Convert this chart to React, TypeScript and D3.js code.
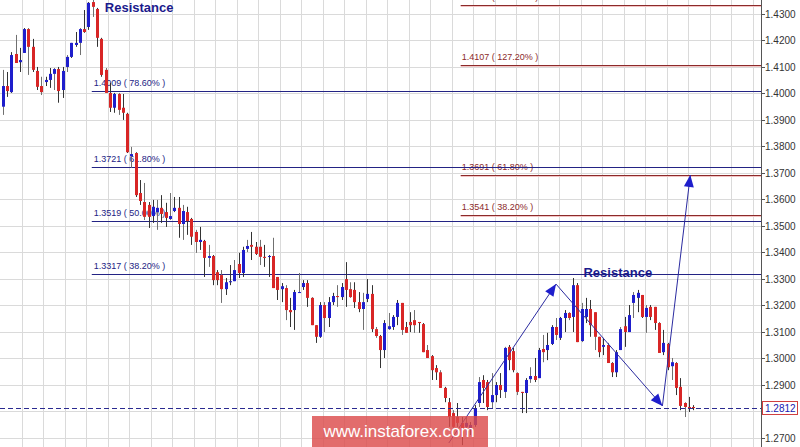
import React from "react";
import * as d3 from "d3";

const opens = [
  1.3950, 1.4028, 1.4005, 1.4149, 1.4118, 1.4153, 1.4243, 1.4176, 1.4085, 1.4028,
  1.4043, 1.4051, 1.4074, 1.4092, 1.4013, 1.4100, 1.4138, 1.4183, 1.4191, 1.4243,
  1.4251, 1.4345, 1.4319, 1.4206, 1.4089, 1.4002, 1.3946, 1.3998, 1.3946, 1.3923,
  1.3763, 1.3775, 1.3624, 1.3590, 1.3579, 1.3537, 1.3552, 1.3568, 1.3552, 1.3526,
  1.3556, 1.3568, 1.3507, 1.3552, 1.3526, 1.3477, 1.3439, 1.3443, 1.3379, 1.3386,
  1.3325, 1.3314, 1.3261, 1.3287, 1.3291, 1.3356, 1.3322, 1.3413, 1.3428, 1.3421,
  1.3421, 1.3383, 1.3383, 1.3386, 1.3307, 1.3261, 1.3265, 1.3182, 1.3182, 1.3250,
  1.3269, 1.3284, 1.3228, 1.3125, 1.3081, 1.3201, 1.3152, 1.3212, 1.3235, 1.3231,
  1.3299, 1.3261, 1.3258, 1.3212, 1.3186, 1.3224, 1.3243, 1.3110, 1.3084, 1.3031,
  1.3110, 1.3118, 1.3156, 1.3209, 1.3118, 1.3137, 1.3144, 1.3137, 1.3129, 1.3031,
  1.3008, 1.2963, 1.2947, 1.2888, 1.2834, 1.2793, 1.2778, 1.2756, 1.2741, 1.2729,
  1.2748, 1.2831, 1.2918, 1.2910, 1.2834, 1.2861, 1.2899, 1.2873, 1.3043, 1.3027,
  1.2944, 1.2873, 1.2869, 1.2921, 1.2933, 1.2925, 1.3035, 1.3031, 1.3054, 1.3118,
  1.3077, 1.3152, 1.3171, 1.3156, 1.3276, 1.3065, 1.3156, 1.3186, 1.3174, 1.3081,
  1.3043, 1.3050, 1.2982, 1.2947, 1.3031, 1.3121, 1.3099, 1.3209, 1.3228, 1.3239,
  1.3156, 1.3194, 1.3194, 1.3133, 1.3023, 1.3054, 1.2970, 1.2982, 1.2892, 1.2831,
  1.2816, 1.2816,
];

const highs = [
  1.4089, 1.4081, 1.4156, 1.4221, 1.4172, 1.4247, 1.4247, 1.4206, 1.4100, 1.4063,
  1.4063, 1.4096, 1.4096, 1.4100, 1.4100, 1.4145, 1.4191, 1.4232, 1.4247, 1.4315,
  1.4345, 1.4353, 1.4323, 1.4210, 1.4096, 1.4040, 1.4002, 1.4002, 1.3998, 1.3927,
  1.3798, 1.3778, 1.3673, 1.3662, 1.3590, 1.3598, 1.3598, 1.3616, 1.3587, 1.3624,
  1.3609, 1.3609, 1.3579, 1.3572, 1.3530, 1.3485, 1.3496, 1.3447, 1.3428, 1.3390,
  1.3333, 1.3333, 1.3303, 1.3352, 1.3371, 1.3398, 1.3421, 1.3447, 1.3477, 1.3439,
  1.3447, 1.3428, 1.3390, 1.3455, 1.3307, 1.3284, 1.3276, 1.3228, 1.3258, 1.3322,
  1.3295, 1.3295, 1.3231, 1.3125, 1.3212, 1.3212, 1.3231, 1.3247, 1.3276, 1.3284,
  1.3363, 1.3287, 1.3287, 1.3250, 1.3247, 1.3299, 1.3276, 1.3118, 1.3088, 1.3144,
  1.3171, 1.3163, 1.3220, 1.3209, 1.3137, 1.3174, 1.3182, 1.3137, 1.3133, 1.3050,
  1.3012, 1.2974, 1.2955, 1.2892, 1.2850, 1.2804, 1.2831, 1.2778, 1.2778, 1.2759,
  1.2823, 1.2929, 1.2936, 1.2918, 1.2944, 1.2910, 1.2944, 1.3043, 1.3050, 1.3039,
  1.2947, 1.2873, 1.2925, 1.2966, 1.3001, 1.3039, 1.3088, 1.3096, 1.3125, 1.3152,
  1.3156, 1.3182, 1.3174, 1.3303, 1.3284, 1.3209, 1.3228, 1.3220, 1.3174, 1.3081,
  1.3077, 1.3058, 1.2985, 1.3031, 1.3118, 1.3156, 1.3201, 1.3250, 1.3258, 1.3239,
  1.3201, 1.3201, 1.3194, 1.3137, 1.3107, 1.3058, 1.3001, 1.2985, 1.2925, 1.2834,
  1.2854, 1.2823,
];

const lows = [
  1.3919, 1.3987, 1.4002, 1.4115, 1.4081, 1.4153, 1.4070, 1.4081, 1.4013, 1.3994,
  1.4028, 1.4021, 1.4013, 1.3965, 1.3983, 1.4081, 1.4134, 1.4176, 1.4145, 1.4229,
  1.4240, 1.4289, 1.4176, 1.4063, 1.4002, 1.3930, 1.3927, 1.3919, 1.3900, 1.3775,
  1.3719, 1.3609, 1.3579, 1.3522, 1.3492, 1.3511, 1.3485, 1.3511, 1.3496, 1.3522,
  1.3552, 1.3455, 1.3447, 1.3466, 1.3428, 1.3398, 1.3409, 1.3307, 1.3345, 1.3276,
  1.3276, 1.3209, 1.3239, 1.3276, 1.3291, 1.3303, 1.3307, 1.3401, 1.3371, 1.3390,
  1.3352, 1.3345, 1.3307, 1.3265, 1.3220, 1.3212, 1.3144, 1.3118, 1.3107, 1.3247,
  1.3258, 1.3194, 1.3125, 1.3058, 1.3077, 1.3099, 1.3118, 1.3201, 1.3194, 1.3220,
  1.3194, 1.3228, 1.3190, 1.3174, 1.3107, 1.3212, 1.3099, 1.3077, 1.2963, 1.3001,
  1.3107, 1.3107, 1.3125, 1.3088, 1.3096, 1.3099, 1.3096, 1.3096, 1.3023, 1.3001,
  1.2918, 1.2918, 1.2888, 1.2834, 1.2741, 1.2737, 1.2741, 1.2672, 1.2710, 1.2710,
  1.2741, 1.2816, 1.2831, 1.2804, 1.2812, 1.2834, 1.2850, 1.2850, 1.2955, 1.2947,
  1.2861, 1.2793, 1.2793, 1.2907, 1.2910, 1.2925, 1.2985, 1.2993, 1.3050, 1.3069,
  1.3069, 1.3099, 1.3144, 1.3099, 1.3061, 1.3061, 1.3133, 1.3081, 1.3031, 1.3004,
  1.3012, 1.2982, 1.2929, 1.2929, 1.3031, 1.3043, 1.3099, 1.3152, 1.3174, 1.3152,
  1.3096, 1.3144, 1.3107, 1.3020, 1.3012, 1.2955, 1.2918, 1.2861, 1.2804, 1.2778,
  1.2797, 1.2804,
];

const closes = [
  1.4028, 1.4009, 1.4145, 1.4115, 1.4126, 1.4243, 1.4176, 1.4089, 1.4025, 1.4005,
  1.4051, 1.4074, 1.4092, 1.4009, 1.4085, 1.4138, 1.4191, 1.4191, 1.4243, 1.4232,
  1.4342, 1.4327, 1.4210, 1.4070, 1.4002, 1.3946, 1.3998, 1.3938, 1.3927, 1.3778,
  1.3771, 1.3616, 1.3594, 1.3534, 1.3534, 1.3572, 1.3568, 1.3545, 1.3530, 1.3537,
  1.3568, 1.3507, 1.3556, 1.3518, 1.3459, 1.3439, 1.3447, 1.3379, 1.3386, 1.3295,
  1.3295, 1.3261, 1.3287, 1.3291, 1.3333, 1.3322, 1.3409, 1.3424, 1.3421, 1.3394,
  1.3383, 1.3379, 1.3386, 1.3265, 1.3258, 1.3272, 1.3182, 1.3174, 1.3250, 1.3250,
  1.3284, 1.3228, 1.3125, 1.3081, 1.3201, 1.3152, 1.3212, 1.3235, 1.3231, 1.3269,
  1.3258, 1.3231, 1.3212, 1.3186, 1.3212, 1.3243, 1.3110, 1.3084, 1.3031, 1.3133,
  1.3121, 1.3156, 1.3209, 1.3107, 1.3096, 1.3125, 1.3125, 1.3133, 1.3023, 1.3001,
  1.2955, 1.2947, 1.2888, 1.2850, 1.2778, 1.2741, 1.2756, 1.2703, 1.2756, 1.2748,
  1.2812, 1.2910, 1.2888, 1.2816, 1.2861, 1.2899, 1.2880, 1.3039, 1.2993, 1.2955,
  1.2873, 1.2869, 1.2918, 1.2933, 1.2918, 1.3031, 1.3023, 1.3050, 1.3118, 1.3088,
  1.3152, 1.3171, 1.3152, 1.3276, 1.3061, 1.3186, 1.3186, 1.3125, 1.3081, 1.3023,
  1.3050, 1.2982, 1.2947, 1.3023, 1.3110, 1.3099, 1.3163, 1.3239, 1.3247, 1.3156,
  1.3190, 1.3156, 1.3133, 1.3020, 1.3058, 1.2966, 1.2985, 1.2888, 1.2820, 1.2816,
  1.2812, 1.2812,
];

const priceTicks = [1.43, 1.42, 1.41, 1.40, 1.39, 1.38, 1.37, 1.36, 1.35, 1.34, 1.33, 1.32, 1.31, 1.30, 1.29, 1.28, 1.27];

const retraceLevels = [1.4009, 1.3721, 1.3519, 1.3317];
const retraceLabels = ["78.60%", "61.80%", "50.00%", "38.20%"];
const retraceStart = 21;

const extensionLevels = [1.4334, 1.4107, 1.3691, 1.3541];
const extensionLabels = ["161.80%", "127.20%", "61.80%", "38.20%"];
const extensionStart = 107;

const lastPrice = 1.2812;

// arrow path: [candle index, price]
const arrowPoints: [number, number][] = [
  [104.0, 1.2680],
  [129.0, 1.3280],
  [153.8, 1.2820],
  [160.3, 1.3692],
];

const notes = [
  { i: 23.8, p: 1.4306, text: "Resistance" },
  { i: 135.4, p: 1.3305, text: "Resistance" },
];

const W = 800;
const H = 447;
const AXIS_X = 761;

const BLUE = "#1e1ecc";
const RED = "#d82626";
const NAVY = "#232384";
const DARKRED = "#8c2a2a";
const FONT = "'Liberation Sans', Arial, sans-serif";

export default function App() {
  const n = closes.length;
  const x = d3.scaleLinear().domain([0, n - 1]).range([2.7, 693.3]);
  const y = d3.scaleLinear().domain([1.27, 1.43]).range([437.7, 14]);

  const gridX = d3.range(21.5, AXIS_X, 21.5);
  const fmt = d3.format(".4f");
  const lastY = Math.round(y(lastPrice));

  const arrowLine = d3
    .line<[number, number]>()
    .x((d) => x(d[0]))
    .y((d) => y(d[1]));

  const heads: string[] = [];
  for (let k = 1; k < arrowPoints.length; k++) {
    const [x0, y0] = [x(arrowPoints[k - 1][0]), y(arrowPoints[k - 1][1])];
    const [x1, y1] = [x(arrowPoints[k][0]), y(arrowPoints[k][1])];
    const len = Math.hypot(x1 - x0, y1 - y0);
    const ux = (x1 - x0) / len;
    const uy = (y1 - y0) / len;
    const L = 12;
    const Wd = 5;
    const bx = x1 - ux * L;
    const by = y1 - uy * L;
    heads.push(
      `M${x1},${y1}L${bx - uy * Wd},${by + ux * Wd}L${bx + uy * Wd},${by - ux * Wd}Z`
    );
  }

  return (
    <>
      <style>{`body{margin:0;}`}</style>
      <svg width={W} height={H} style={{ display: "block", background: "#fff" }} fontFamily={FONT}>
        <rect x={0} y={0} width={W} height={H} fill="#fff" />
        {/* grid */}
        <g stroke="#dadada" strokeWidth={1}>
          {gridX.map((gx, k) => (
            <line key={"gx" + k} x1={Math.round(gx) + 0.5} x2={Math.round(gx) + 0.5} y1={0} y2={H} />
          ))}
          {priceTicks.map((t, k) => (
            <line key={"gy" + k} x1={0} x2={AXIS_X} y1={Math.round(y(t)) + 0.5} y2={Math.round(y(t)) + 0.5} />
          ))}
        </g>

        {/* extension (red) levels */}
        {extensionLevels.map((lv, k) => {
          const yy = Math.round(y(lv)) + 0.5;
          return (
            <g key={"ext" + k}>
              <line x1={x(extensionStart) - 1} x2={AXIS_X} y1={yy + 1} y2={yy + 1} stroke="#f2c4c4" strokeWidth={1} />
              <line x1={x(extensionStart) - 1} x2={AXIS_X} y1={yy} y2={yy} stroke={DARKRED} strokeWidth={1} />
              <text x={x(extensionStart)} y={yy - 6} fontSize={9} fill={DARKRED}>
                {`${fmt(lv)} ( ${extensionLabels[k]} )`}
              </text>
            </g>
          );
        })}

        {/* retracement (blue) levels */}
        {retraceLevels.map((lv, k) => {
          const yy = Math.round(y(lv)) + 0.5;
          return (
            <g key={"ret" + k}>
              <line x1={x(retraceStart) - 1} x2={AXIS_X} y1={yy} y2={yy} stroke={NAVY} strokeWidth={1} />
              <text x={x(retraceStart) + 1} y={yy - 6} fontSize={9} fill={NAVY}>
                {`${fmt(lv)} ( ${retraceLabels[k]} )`}
              </text>
            </g>
          );
        })}

        {/* candles */}
        <g>
          {closes.map((c, i) => {
            const o = opens[i];
            const cx = Math.round(x(i)) + 0.5;
            const up = c >= o;
            const top = y(Math.max(o, c));
            const bot = y(Math.min(o, c));
            return (
              <g key={"c" + i}>
                <line x1={cx} x2={cx} y1={y(highs[i])} y2={y(lows[i])} stroke={i % 3 === 0 ? "#707070" : "#333"} strokeWidth={1} />
                <rect
                  x={cx - 1.5}
                  y={top}
                  width={3}
                  height={Math.max(1, bot - top)}
                  fill={up ? BLUE : RED}
                />
              </g>
            );
          })}
        </g>

        {/* last price dashed line */}
        <line
          x1={0}
          x2={AXIS_X}
          y1={lastY + 0.5}
          y2={lastY + 0.5}
          stroke="#2a2a90"
          strokeWidth={1}
          strokeDasharray="5,3"
        />

        {/* arrows */}
        <path d={arrowLine(arrowPoints) || ""} fill="none" stroke="#2b2ba0" strokeWidth={1} />
        {heads.map((d, k) => (
          <path key={"h" + k} d={d} fill={BLUE} />
        ))}

        {/* notes */}
        {notes.map((nt, k) => (
          <text key={"n" + k} x={x(nt.i)} y={y(nt.p)} fontSize={13} fontWeight="bold" fill="#1a1a8c">
            {nt.text}
          </text>
        ))}

        {/* watermark */}
        <rect x={312} y={416} width={176} height={34} fill="#dc4c4c" opacity={0.82} />
        <text x={399} y={437} textAnchor="middle" fontSize={17} fill="#fff">
          www.instaforex.com
        </text>

        {/* right axis */}
        <rect x={AXIS_X} y={0} width={W - AXIS_X} height={H} fill="#fff" />
        <line x1={AXIS_X + 0.5} x2={AXIS_X + 0.5} y1={0} y2={H} stroke="#555" strokeWidth={1} />
        {priceTicks.map((t, k) => {
          const yy = Math.round(y(t)) + 0.5;
          const hidden = Math.abs(yy - lastY) < 10;
          return (
            <g key={"t" + k}>
              <line x1={AXIS_X} x2={AXIS_X + 4} y1={yy} y2={yy} stroke="#555" />
              {!hidden && (
                <text x={AXIS_X + 4} y={yy} dy="0.35em" fontSize={10} fill="#333">
                  {fmt(t)}
                </text>
              )}
            </g>
          );
        })}
        <rect
          x={AXIS_X + 1.5}
          y={lastY - 6.5}
          width={35}
          height={13}
          fill="#fff"
          stroke="#d04040"
        />
        <text x={AXIS_X + 4} y={lastY} dy="0.35em" fontSize={10} fill="#2020b0">
          {fmt(lastPrice)}
        </text>
      </svg>
    </>
  );
}
